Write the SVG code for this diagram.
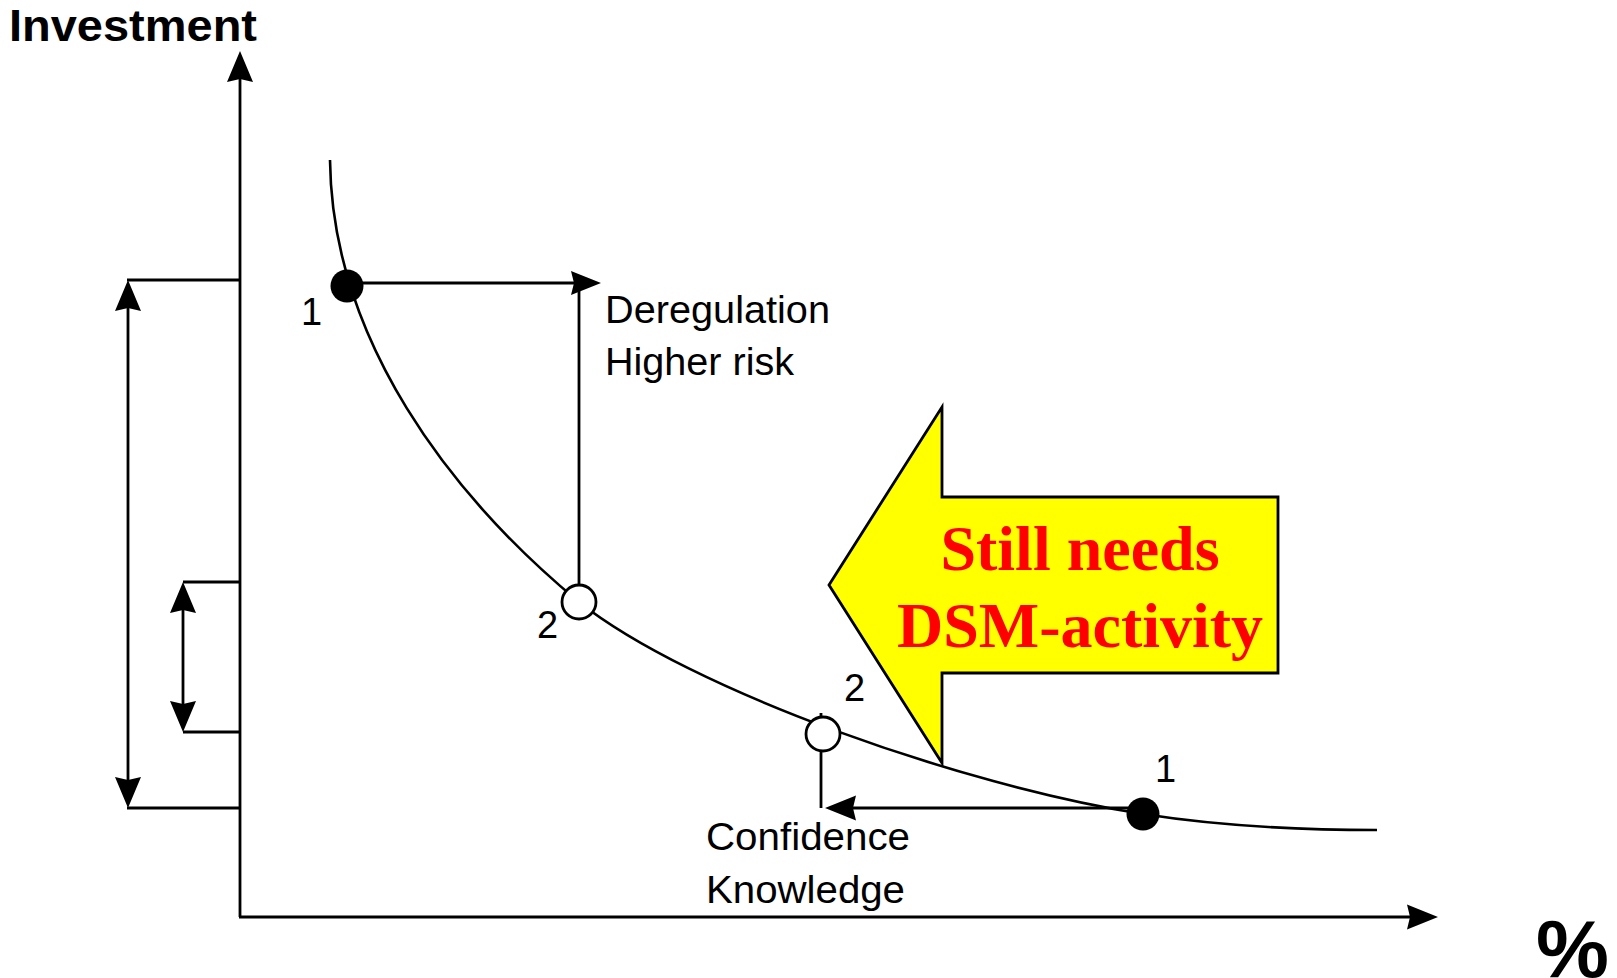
<svg xmlns="http://www.w3.org/2000/svg" width="1617" height="978" viewBox="0 0 1617 978">
<style>
.ln{stroke:#000;stroke-width:2.8;fill:none}
.cv{stroke:#000;stroke-width:2.6;fill:none}
.ah{fill:#000;stroke:none}
.t{font-family:"Liberation Sans",Arial,sans-serif;font-size:38px;fill:#000}
.tb{font-family:"Liberation Sans",Arial,sans-serif;font-weight:bold;fill:#000}
.dot{fill:#000}
.open{fill:#fff;stroke:#000;stroke-width:2.8}
.red{font-family:"Liberation Serif","Times New Roman",serif;font-weight:bold;font-size:64px;fill:#FF0000;text-anchor:middle}
</style>
<rect width="1617" height="978" fill="#fff"/>
<g id="axes">
<line class="ln" x1="240" y1="78" x2="240" y2="917"/>
<polygon class="ah" points="240,51 253,82 240,79 227,82"/>
<line class="ln" x1="239" y1="917" x2="1410" y2="917"/>
<polygon class="ah" points="1438,917 1407,929.5 1410,917 1407,904.5"/>
<text class="tb" x="9" y="41" font-size="44" textLength="248" lengthAdjust="spacingAndGlyphs">Investment</text>
<text class="tb" x="1536" y="977" font-size="82">%</text>
</g>
<g id="connectors">
<line class="ln" x1="127" y1="280" x2="240" y2="280"/>
<line class="ln" x1="127" y1="808" x2="240" y2="808"/>
<line class="ln" x1="128" y1="305" x2="128" y2="783"/>
<polygon class="ah" points="128,280 141,311 128,308 115,311"/>
<polygon class="ah" points="128,808 141,777 128,780 115,777"/>
<line class="ln" x1="183" y1="582" x2="240" y2="582"/>
<line class="ln" x1="183" y1="732" x2="240" y2="732"/>
<line class="ln" x1="183" y1="607" x2="183" y2="707"/>
<polygon class="ah" points="183,582 196,613 183,610 170,613"/>
<polygon class="ah" points="183,732 196,701 183,704 170,701"/>
<line class="ln" x1="347" y1="283" x2="575" y2="283"/>
<polygon class="ah" points="601,283 571,295 574,283 571,271"/>
<line class="ln" x1="579" y1="291" x2="579" y2="590"/>
<line class="ln" x1="821" y1="713" x2="821" y2="808"/>
<line class="ln" x1="850" y1="808" x2="1143" y2="808"/>
<polygon class="ah" points="825,808 856,795.5 853,808 856,820.5"/>
</g>
<g id="curve">
<path class="cv" d="M330,160 C332,340 450,495 579,602 C690,690 960,785 1143,814 C1213,825 1300,830 1377,830"/>
</g>
<g id="point1a">
<circle class="dot" cx="347" cy="286" r="16.5"/>
<text class="t" x="301" y="325">1</text>
</g>
<g id="point2a">
<circle class="open" cx="579" cy="602" r="17"/>
<text class="t" x="537" y="638">2</text>
</g>
<g id="point2b">
<circle class="open" cx="823" cy="734" r="17"/>
<text class="t" x="844" y="701">2</text>
</g>
<g id="point1b">
<circle class="dot" cx="1143" cy="814" r="16.5"/>
<text class="t" x="1155" y="782">1</text>
</g>
<g id="label-deregulation">
<text class="t" x="605" y="323" textLength="225" lengthAdjust="spacingAndGlyphs">Deregulation</text>
<text class="t" x="605" y="375" textLength="189" lengthAdjust="spacingAndGlyphs">Higher risk</text>
</g>
<g id="label-confidence">
<text class="t" x="706" y="850" textLength="204" lengthAdjust="spacingAndGlyphs">Confidence</text>
<text class="t" x="706" y="903" textLength="199" lengthAdjust="spacingAndGlyphs">Knowledge</text>
</g>
<g id="dsm-arrow">
<polygon points="829,585 942,407 942,497 1278,497 1278,673 942,673 942,763" fill="#FFFF00" stroke="#000" stroke-width="2.8" stroke-linejoin="miter"/>
<text class="red" x="1080" y="570">Still needs</text>
<text class="red" x="1080" y="647">DSM-activity</text>
</g>
</svg>
